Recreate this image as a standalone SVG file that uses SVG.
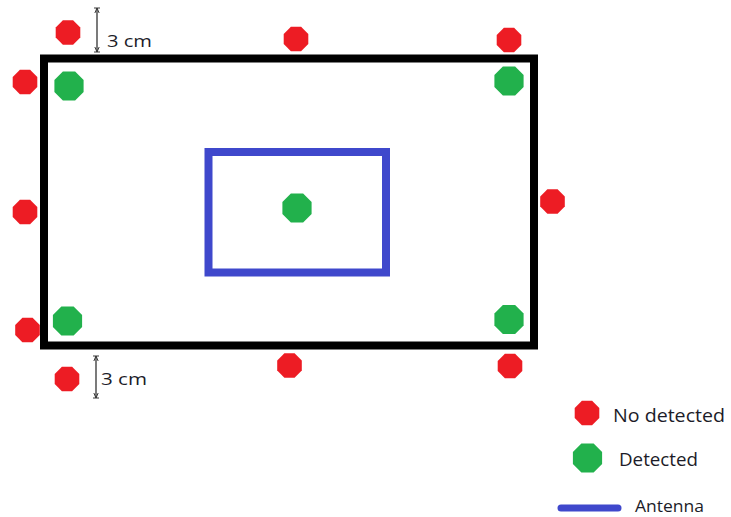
<svg xmlns="http://www.w3.org/2000/svg" width="731" height="517" viewBox="0 0 731 517">
<style>
.red{fill:#ed1c24}
.green{fill:#22b14c}
.lbl{font-family:"Segoe UI","Open Sans","Liberation Sans",sans-serif;fill:#1c1c28}
.dim{stroke:#333;stroke-width:1.3;fill:none}
</style>
<defs>
<path id="octR" d="M-5.1,-12.3 L5.1,-12.3 L12.3,-5.1 L12.3,5.1 L5.1,12.3 L-5.1,12.3 L-12.3,5.1 L-12.3,-5.1 Z"/>
<path id="octG" d="M-6.1,-14.6 L6.1,-14.6 L14.6,-6.1 L14.6,6.1 L6.1,14.6 L-6.1,14.6 L-14.6,6.1 L-14.6,-6.1 Z"/>
<marker id="ah" viewBox="0 0 8 8" refX="7" refY="4" markerWidth="6" markerHeight="6" markerUnits="userSpaceOnUse" orient="auto">
<path d="M0,1 L7,4 L0,7 M7,0 L7,8" fill="none" stroke="#333" stroke-width="1.3"/>
</marker>
</defs>
<rect width="731" height="517" fill="#fff"/>
<g id="box">
<rect x="44" y="58.5" width="490" height="287" fill="none" stroke="#000" stroke-width="8"/>
</g>
<g id="antenna">
<rect x="208.5" y="152" width="177.5" height="120.5" fill="none" stroke="#3f48cc" stroke-width="8"/>
</g>
<g id="connectors">
<line class="dim" x1="97" y1="30" x2="97" y2="8" marker-end="url(#ah)"/>
<line class="dim" x1="97" y1="30" x2="97" y2="52" marker-end="url(#ah)"/>
<line class="dim" x1="96" y1="377" x2="96" y2="356" marker-end="url(#ah)"/>
<line class="dim" x1="96" y1="377" x2="96" y2="398" marker-end="url(#ah)"/>
</g>
<g id="dim-top"><text class="lbl" x="107" y="47" font-size="17" textLength="45" lengthAdjust="spacingAndGlyphs">3 cm</text></g>
<g id="dim-bottom"><text class="lbl" x="101" y="385" font-size="17" textLength="46" lengthAdjust="spacingAndGlyphs">3 cm</text></g>
<g id="red-dots">
<use href="#octR" class="red" x="68" y="32.5"/>
<use href="#octR" class="red" x="296" y="39"/>
<use href="#octR" class="red" x="509" y="40"/>
<use href="#octR" class="red" x="25" y="82"/>
<use href="#octR" class="red" x="25" y="212"/>
<use href="#octR" class="red" x="552.5" y="201.5"/>
<use href="#octR" class="red" x="27.5" y="330"/>
<use href="#octR" class="red" x="67" y="379"/>
<use href="#octR" class="red" x="289.5" y="365.5"/>
<use href="#octR" class="red" x="510" y="366"/>
</g>
<g id="green-dots">
<use href="#octG" class="green" x="69" y="86"/>
<use href="#octG" class="green" x="509" y="81"/>
<use href="#octG" class="green" x="297" y="208"/>
<use href="#octG" class="green" x="67.5" y="321"/>
<use href="#octG" class="green" x="509" y="319.5"/>
</g>
<g id="legend">
<use href="#octR" class="red" x="587" y="413"/>
<text class="lbl" x="613" y="422" font-size="18" textLength="112" lengthAdjust="spacingAndGlyphs">No detected</text>
<use href="#octG" class="green" x="587.5" y="458"/>
<text class="lbl" x="619" y="466" font-size="18" textLength="79" lengthAdjust="spacingAndGlyphs">Detected</text>
<line x1="561" y1="508" x2="618" y2="508" stroke="#3f48cc" stroke-width="7" stroke-linecap="round"/>
<text class="lbl" x="635" y="512" font-size="16" textLength="69" lengthAdjust="spacingAndGlyphs">Antenna</text>
</g>
</svg>
